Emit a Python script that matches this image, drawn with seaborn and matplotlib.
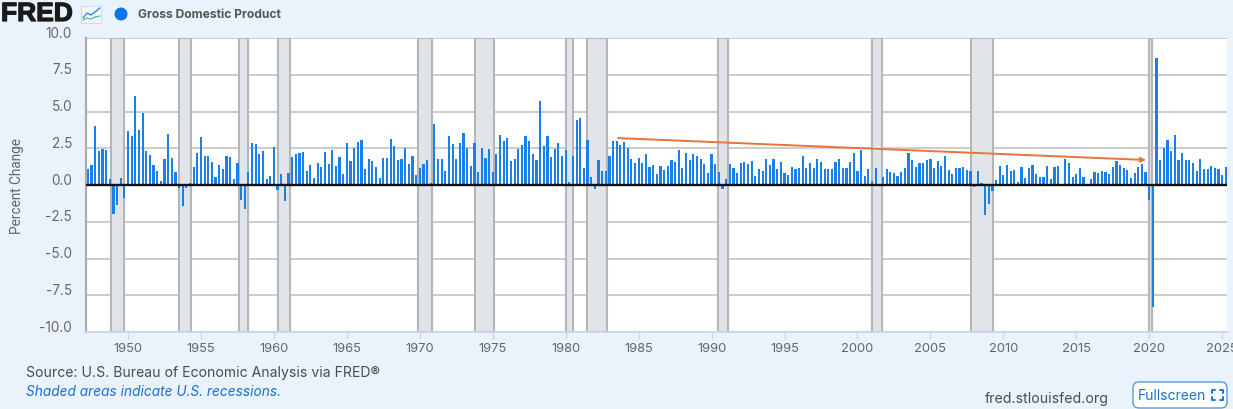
import numpy as np
import matplotlib
matplotlib.use("Agg")
import matplotlib.pyplot as plt
import matplotlib.transforms as mtrans
import matplotlib.patheffects as pe
from matplotlib.lines import Line2D
from matplotlib.patches import FancyBboxPatch, Circle, Rectangle
import seaborn as sns

# Percent change per quarter, first bar is 1947 Q2
gdp_1947_1968 = [1.1, 1.38, 3.98, 2.3, 2.45, 2.37, 0.38, -1.95, -1.38, 0.5, -0.88,
                 3.7, 3.3, 6.03, 3.77, 4.93, 2.33, 2.05, 1.33, 0.95, 0.3, 1.76, 3.48,
                 1.83, 0.88, -0.2, -1.4, -0.2, 0.16, 1.22, 2.17, 3.28, 2.0, 2.0, 1.56,
                 0.56, 1.38, 1.1, 2.0, 1.92, 0.43, 1.5, -1.0, -1.6, 0.88, 2.87, 2.76,
                 2.1, 2.33, 0.38, 0.6, 2.6, -0.35, 0.77, -1.06, 0.84, 1.88, 2.1, 2.2,
                 2.26, 0.97, 1.38, 0.5, 1.5, 1.2, 2.26, 1.42, 2.4, 1.27, 1.88, 0.72,
                 2.87, 1.65, 2.53, 2.94, 3.05, 1.1, 1.76, 1.6, 1.22, 0.5, 1.83, 1.83,
                 3.1, 2.65, 1.7]
gdp_1968_1997 = [1.76, 2.5, 1.45, 1.95, 0.68, 1.18, 1.45, 1.67, 0.11, 4.18, 1.74, 1.74,
                 0.95, 3.3, 2.78, 1.8, 2.85, 3.57, 2.55, 1.29, 2.85, 0.9, 2.5, 1.85,
                 2.46, 0.9, 2.12, 3.39, 2.96, 3.23, 1.63, 1.74, 2.46, 2.73, 3.3, 2.96,
                 2.08, 1.67, 5.74, 2.62, 3.34, 1.9, 2.46, 2.85, 2.0, 2.35, 0.18, 2.0,
                 4.4, 4.56, 1.13, 3.03, 0.52, -0.3, 1.67, 0.95, 0.95, 1.94, 2.96, 2.96,
                 2.71, 2.9, 2.49, 1.79, 1.47, 1.85, 1.47, 2.08, 1.24, 1.33, 0.75, 1.29,
                 1.02, 1.29, 1.67, 1.54, 2.4, 1.18, 2.19, 1.67, 2.12, 1.97, 1.74, 1.4,
                 0.79, 2.08, 1.4, 0.86, -0.25, 0.41, 1.4, 1.18, 0.84, 1.47, 1.56, 1.4,
                 1.63, 0.63, 1.08, 0.95, 1.8, 1.33, 1.74, 1.08, 1.58, 0.79, 0.68, 1.24,
                 1.08, 1.13, 2.0, 1.13]
gdp_1997_2025 = [1.5, 1.13, 1.8, 1.58, 1.06, 1.06, 1.06, 1.56, 1.8, 1.18, 1.13, 1.58,
                 2.15, 0.95, 2.35, 0.59, 1.06, 0.27, 1.13, 0.0, 0.54, 1.06, 0.88, 0.79,
                 0.63, 0.9, 1.15, 2.15, 1.67, 1.2, 1.51, 1.51, 1.67, 1.8, 1.13, 1.63,
                 1.29, 1.97, 1.02, 0.72, 1.13, 1.18, 1.24, 1.02, 0.95, -0.13, 0.95, 0.14,
                 -2.03, -1.31, -0.41, 0.36, 1.29, 0.68, 1.33, 0.95, 1.02, 0.18, 1.24, 0.45,
                 1.13, 1.33, 0.72, 0.56, 0.52, 1.29, 0.41, 1.22, 1.29, 0.0, 1.79, 1.51,
                 0.52, 0.72, 1.13, 0.56, 0.07, 0.41, 0.9, 0.84, 0.95, 0.9, 0.72, 1.24,
                 1.63, 1.33, 1.13, 1.0, 0.47, 0.84, 1.24, 1.4, 0.9, -1.02, -8.3, 8.65,
                 1.7, 2.55, 3.07, 2.3, 3.43, 1.67, 2.2, 1.72, 1.67, 1.51, 0.95, 1.79,
                 1.06, 1.06, 1.29, 1.13, 1.06, 0.68, 1.24]
gdp_change = gdp_1947_1968 + gdp_1968_1997 + gdp_1997_2025
quarters = 1947.25 + 0.25 * np.arange(len(gdp_change))

recession_start = [1948.83, 1953.5, 1957.58, 1960.25, 1969.9, 1973.8, 1979.99, 1981.44, 1990.46, 2001.0, 2007.81, 2019.98]
recession_end = [1949.75, 1954.33, 1958.25, 1961.08, 1970.81, 1975.09, 1980.47, 1982.8, 1991.12, 2001.67, 2009.31, 2020.18]

y_ticks = [10.0, 7.5, 5.0, 2.5, 0.0, -2.5, -5.0, -7.5, -10.0]
x_ticks = list(range(1950, 2026, 5))

# trend arrow start and end (year, percent)
arrow_x = [1983.58, 2019.8]
arrow_y = [3.19, 1.7]

BG = "#eaf2fb"
BAR = "#1a7fe8"
TXT = "#666666"
W, H = 1233, 410

sns.set_style("white")
plt.rcParams["font.family"] = ["Inter", "DejaVu Sans"]

fig = plt.figure(figsize=(W / 100, H / 100), dpi=100, facecolor=BG)
ax = fig.add_axes([86 / W, 1 - 333 / H, (1227 - 86) / W, (333 - 39) / H])
ax.set_facecolor("white")

for a, b in zip(recession_start, recession_end):
    ax.axvspan(a, b, facecolor="#e1e5e9", edgecolor="#b4b6b8", linewidth=1.5, zorder=1.5)

sns.barplot(x=quarters, y=gdp_change, native_scale=True, color=BAR, saturation=1,
            width=0.6, errorbar=None, linewidth=0, ax=ax, zorder=2)

ax.set_xlim(1947.12, 2025.33)
ax.set_ylim(-10, 10)
ax.set_yticks(y_ticks)
ax.set_yticklabels([f"{v:.1f}" for v in y_ticks], fontsize=9.8, color=TXT)
ax.set_xticks(x_ticks)
ax.set_xticklabels([str(v) for v in x_ticks], fontsize=9.3, color=TXT)
ax.set_xlabel("")
ax.set_ylabel("")
ax.grid(axis="y", color="#cccccc", linewidth=1.4, zorder=1)
ax.grid(axis="x", visible=False)
ax.set_axisbelow(True)
ax.axhline(0, color="#111111", linewidth=1.7, zorder=3)

ax.tick_params(axis="y", length=0, pad=10)
ax.tick_params(axis="x", length=5, width=1, color="#ccd6eb", pad=2, bottom=True)
up = mtrans.ScaledTranslation(0, 7 / 100, fig.dpi_scale_trans)
for lab in ax.get_yticklabels():
    lab.set_transform(lab.get_transform() + up)

for side in ["top", "right"]:
    ax.spines[side].set_visible(False)
ax.spines["left"].set_color("#adadad")
ax.spines["left"].set_linewidth(1.6)
ax.spines["bottom"].set_color("#ccd6eb")
ax.spines["bottom"].set_linewidth(1.2)

ax.annotate("", xy=(arrow_x[1], arrow_y[1]), xytext=(arrow_x[0], arrow_y[0]),
            arrowprops=dict(arrowstyle="-|>,head_length=0.3,head_width=0.13", color="#e8743a",
                            linewidth=1.4, shrinkA=0, shrinkB=0), zorder=4)


def fx(px):
    return px / W


def fy(px):
    return 1 - px / H


fig.text(fx(17), fy(186), "Percent Change", rotation=90, ha="center", va="center",
         fontsize=9.8, color=TXT, family=["Roboto", "DejaVu Sans"])

# header
fig.text(fx(1), fy(15), "FRED", fontsize=19, fontweight="bold", color="#1a1a1a",
         ha="left", va="center", family=["Liberation Sans", "DejaVu Sans"],
         path_effects=[pe.withStroke(linewidth=0.9, foreground="#1a1a1a")])
fig.add_artist(Rectangle((fx(81), fy(24)), 20 / W, 17 / H, transform=fig.transFigure,
                         facecolor="#f5f8fb", edgecolor="#d8dde2", linewidth=0.8))
fig.add_artist(Line2D([fx(v) for v in [83, 87, 91, 95, 100]], [fy(v) for v in [19, 14, 16, 13, 9]],
                      color="#2d8fe6", linewidth=1))
fig.add_artist(Line2D([fx(v) for v in [83, 87, 91, 95, 100]], [fy(v) for v in [21, 19, 20, 18, 17]],
                      color="#5cc0a8", linewidth=1))
fig.add_artist(Circle((121, H - 15), 6.5, transform=mtrans.IdentityTransform(), facecolor="#0a74e8",
                      edgecolor="none"))
fig.text(fx(138), fy(15), "Gross Domestic Product", fontsize=8.7, fontweight="bold", color="#555555",
         ha="left", va="center")

# footer
fig.text(fx(26), fy(373), "Source: U.S. Bureau of Economic Analysis via FRED\u00ae", fontsize=10.1,
         color="#4d4d4d", ha="left", va="center")
fig.text(fx(26), fy(392), "Shaded areas indicate U.S. recessions.", fontsize=9.85, style="italic",
         color="#1a73cf", ha="left", va="center")
fig.text(fx(985), fy(399), "fred.stlouisfed.org", fontsize=10.2, color="#4d4d4d", ha="left", va="center")

btn = FancyBboxPatch((1133, H - 409), 94, 26, boxstyle="round,pad=0,rounding_size=6",
                     transform=mtrans.IdentityTransform(), facecolor="white", edgecolor="#5b9bdc",
                     linewidth=1)
fig.add_artist(btn)
fig.text(fx(1138), fy(396), "Fullscreen", fontsize=10, color="#1a73cf", ha="left", va="center")
for cx, cy, dx, dy in [(1212, 391, 1, 1), (1223, 391, -1, 1), (1212, 401, 1, -1), (1223, 401, -1, -1)]:
    fig.add_artist(Line2D([fx(cx + 3 * dx), fx(cx), fx(cx)], [fy(cy), fy(cy), fy(cy + 3 * dy)],
                          color="#1a73cf", linewidth=1.4))

fig.savefig("out.png", dpi=100, facecolor=BG)
